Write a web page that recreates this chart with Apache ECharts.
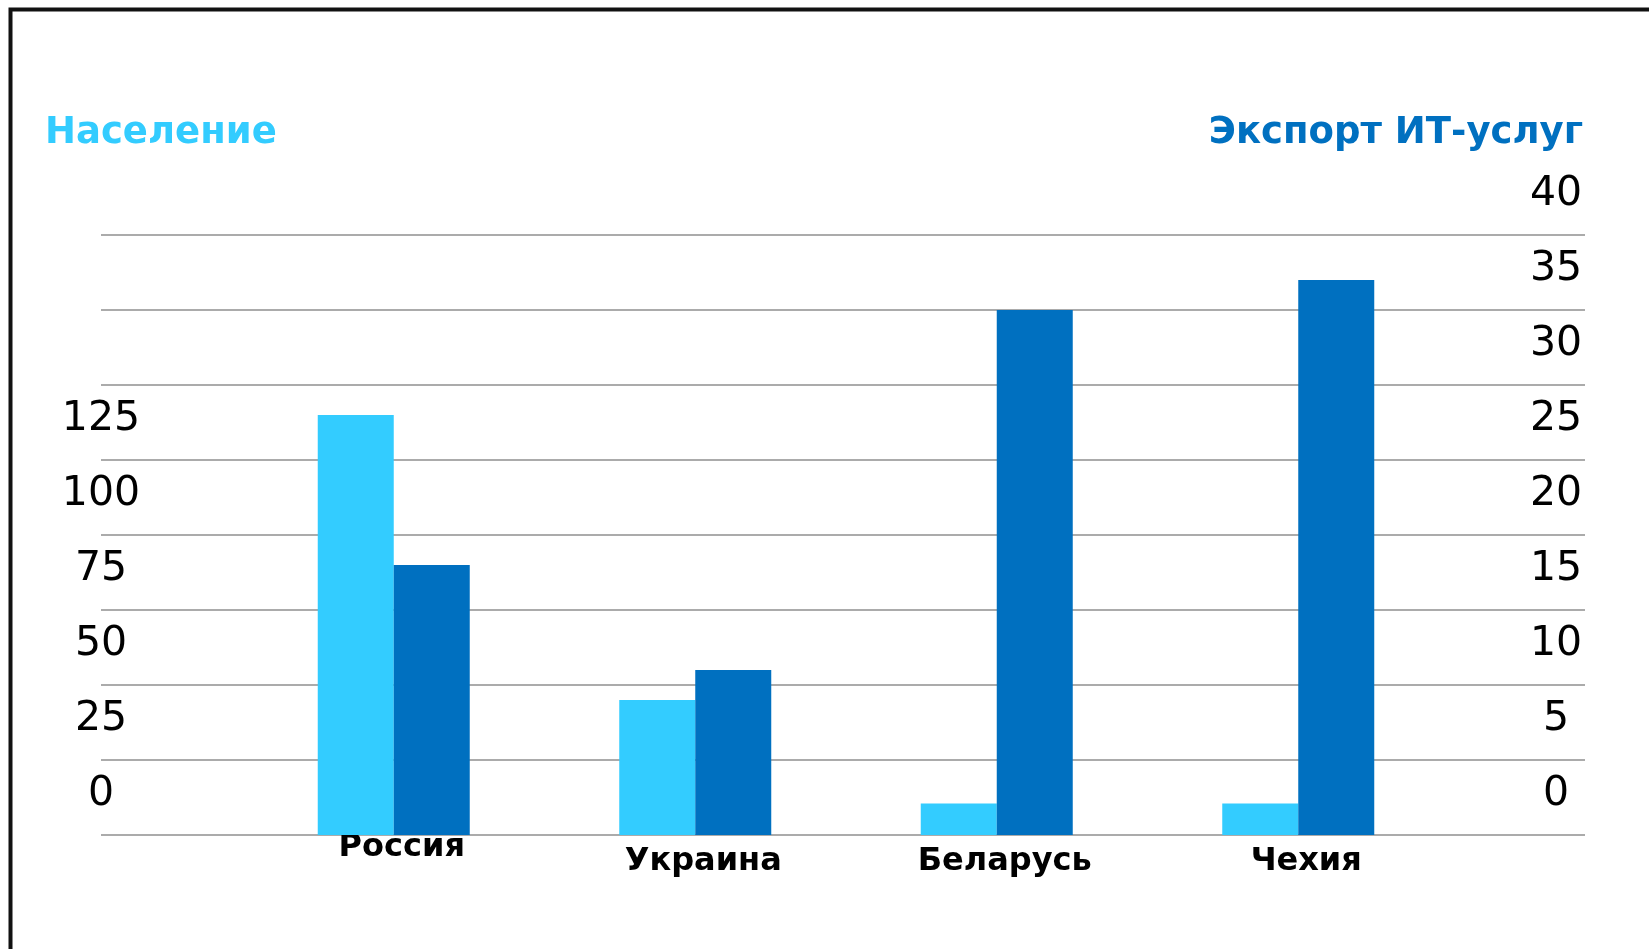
<!DOCTYPE html>
<html>
<head>
<meta charset="utf-8">
<script src="https://cdn.jsdelivr.net/npm/echarts@6/dist/echarts.min.js"></script>
<style>
html,body{margin:0;padding:0;background:#fff;}
#c{width:1649px;height:949px;}
</style>
</head>
<body>
<div id="c"></div>
<script>
const categories = ['Россия', 'Украина', 'Беларусь', 'Чехия'];
const population = [140, 45, 10.5, 10.5];
const itExport = [18, 11, 35, 37];
const leftTitle = 'Население';
const rightTitle = 'Экспорт ИТ-услуг';

const FONT = '"DejaVu Sans", Verdana, sans-serif';
const LIGHT = '#33CCFF';
const DARK = '#0070C0';

const chart = echarts.init(document.getElementById('c'));
chart.setOption({
  backgroundColor: '#fff',
  animation: false,
  graphic: [{
    type: 'rect',
    shape: { x: 10.5, y: 9.5, width: 1700, height: 1000 },
    style: { fill: 'none', stroke: '#111', lineWidth: 4 },
    silent: true
  }],
  title: [
    { text: leftTitle, left: 45, top: 113, padding: 0,
      textStyle: { fontFamily: FONT, fontSize: 37, fontWeight: 'bold', color: LIGHT, lineHeight: 40 } },
    { text: rightTitle, right: 66, top: 113, padding: 0,
      textStyle: { fontFamily: FONT, fontSize: 37, fontWeight: 'bold', color: DARK, lineHeight: 40 } }
  ],
  grid: [
    { left: 101, right: 64, top: 235, bottom: 114 },
    { left: 243, right: 200, top: 235, bottom: 114 },
    { left: 101, right: 64, top: 194, bottom: 155 }
  ],
  xAxis: [
    { type: 'category', gridIndex: 0, data: categories, show: false },
    { type: 'category', gridIndex: 1, data: categories,
      axisLine: { show: false }, axisTick: { show: false },
      axisLabel: {
        interval: 0, hideOverlap: false,
        margin: 27, verticalAlign: 'middle', lineHeight: 28,
        fontFamily: FONT, fontSize: 32, fontWeight: 'bold', color: '#000',
        formatter: function (v, i) { return i === 0 ? '{c|' + v + '}\n{c| }' : '{c|' + v + '}'; },
        rich: { c: { fontFamily: FONT, fontSize: 32, fontWeight: 'bold', color: '#000',
                     lineHeight: 28, padding: [0, 0, 0, 16] } }
      } },
    { type: 'category', gridIndex: 2, data: categories, show: false }
  ],
  yAxis: [
    // gridlines
    { type: 'value', gridIndex: 0, position: 'left', min: 0, max: 200, interval: 25,
      axisLine: { show: false }, axisTick: { show: false }, axisLabel: { show: false },
      splitLine: { show: true, lineStyle: { color: '#ababab', width: 2 } } },
    // bars
    { type: 'value', gridIndex: 1, position: 'left', min: 0, max: 200, interval: 25, show: false,
      splitLine: { show: false } },
    { type: 'value', gridIndex: 1, position: 'right', min: 0, max: 40, interval: 5, show: false,
      splitLine: { show: false } },
    // tick labels (set above their gridlines)
    { type: 'value', gridIndex: 2, position: 'left', min: 0, max: 200, interval: 25,
      axisLine: { show: false }, axisTick: { show: false }, splitLine: { show: false },
      axisLabel: {
        showMinLabel: true, showMaxLabel: true,
        margin: 0, align: 'center', verticalAlign: 'middle',
        fontFamily: FONT, fontSize: 41, color: '#000',
        formatter: function (v) { return v <= 125 ? String(v) : ''; }
      } },
    { type: 'value', gridIndex: 2, position: 'right', min: 0, max: 40, interval: 5,
      axisLine: { show: false }, axisTick: { show: false }, splitLine: { show: false },
      axisLabel: {
        showMinLabel: true, showMaxLabel: true,
        margin: -29, align: 'center', verticalAlign: 'middle',
        fontFamily: FONT, fontSize: 41, color: '#000'
      } }
  ],
  series: [
    { type: 'bar', name: leftTitle, xAxisIndex: 1, yAxisIndex: 1, data: population,
      barWidth: 76, barGap: '0%', itemStyle: { color: LIGHT } },
    { type: 'bar', name: rightTitle, xAxisIndex: 1, yAxisIndex: 2, data: itExport,
      barWidth: 76, barGap: '0%', itemStyle: { color: DARK } }
  ]
});
</script>
</body>
</html>
